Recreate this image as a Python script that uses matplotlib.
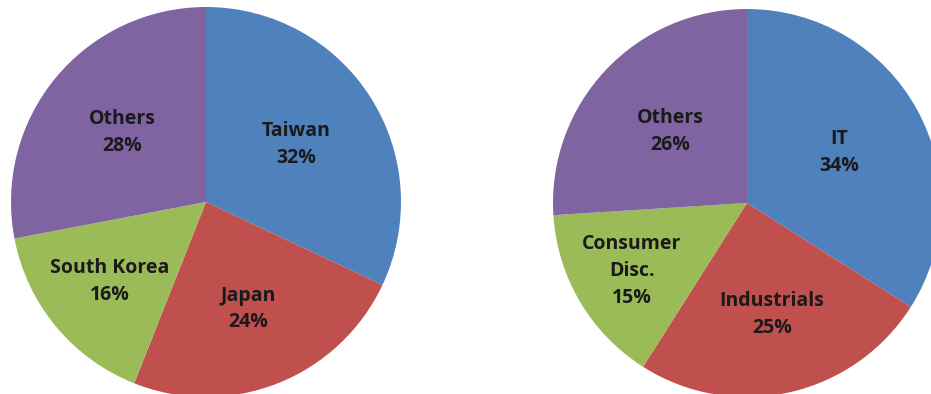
import numpy as np
import matplotlib.pyplot as plt

# left pie: markets
regions = ["Taiwan", "Japan", "South Korea", "Others"]
region_pct = [32, 24, 16, 28]

# right pie: sectors
sectors = ["IT", "Industrials", "Consumer\nDisc.", "Others"]
sector_pct = [34, 25, 15, 26]

colors = ["#4F81BD", "#C0504D", "#9BBB59", "#8064A2"]

W, H = 931, 394
fig = plt.figure(figsize=(W / 100, H / 100), dpi=100)


def draw_pie(cx, cy, r, names, values, label_r):
    # axes placed in pixel space so the pie lands where the original one is
    ax = fig.add_axes([(cx - r) / W, (H - cy - r) / H, 2 * r / W, 2 * r / H])
    wedges, _ = ax.pie(values, colors=colors, startangle=90, counterclock=False,
                       radius=1, wedgeprops=dict(linewidth=0))
    for w, n, v, d in zip(wedges, names, values, label_r):
        ang = np.deg2rad((w.theta1 + w.theta2) / 2)
        ax.text(d * np.cos(ang), d * np.sin(ang), f"{n}\n{v}%",
                ha="center", va="center", fontsize=14, fontweight="bold",
                family="Open Sans", color="#1a1a1a", linespacing=1.45)
    ax.set_xlim(-1, 1)
    ax.set_ylim(-1, 1)
    ax.set_aspect("equal")
    ax.axis("off")


draw_pie(206, 202, 195, regions, region_pct, [0.55, 0.59, 0.64, 0.56])
draw_pie(747, 203, 194, sectors, sector_pct, [0.54, 0.59, 0.69, 0.54])

fig.savefig("out.png", dpi=100)
